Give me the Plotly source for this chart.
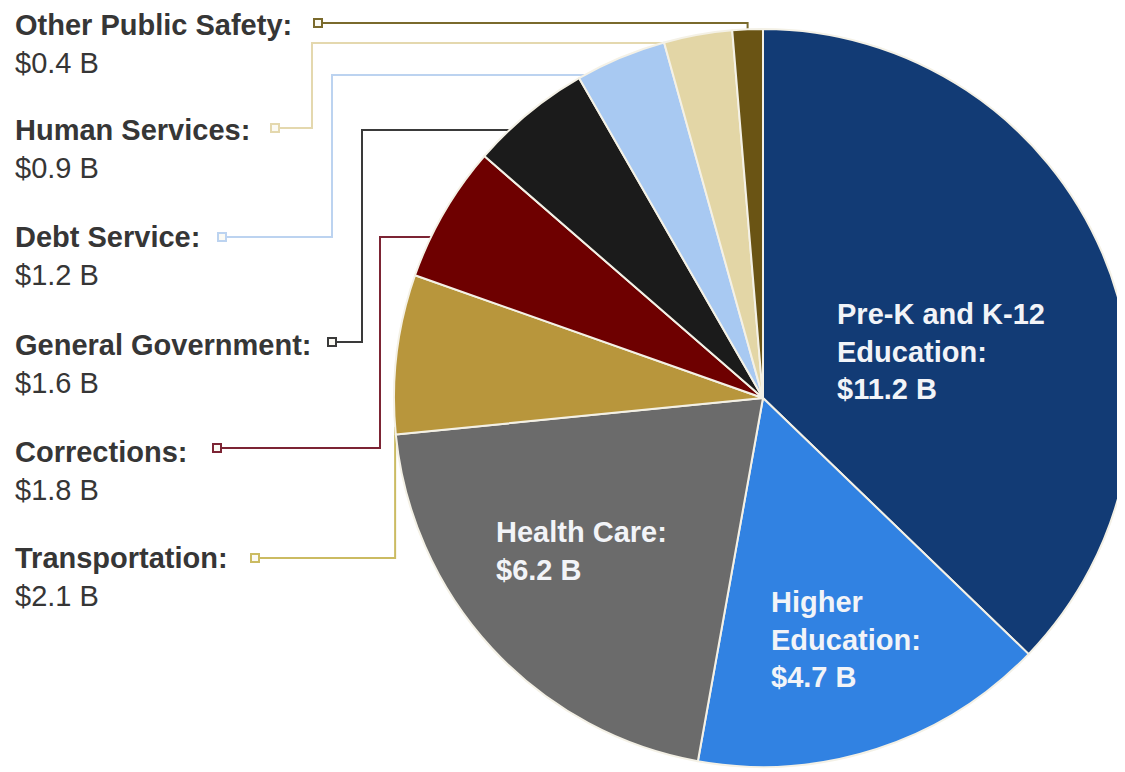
import math
import plotly.graph_objects as go

# ---------------- data ----------------
labels = ["Pre-K and K-12 Education", "Higher Education", "Health Care", "Transportation",
          "Corrections", "General Government", "Debt Service", "Human Services",
          "Other Public Safety"]
values = [11.2, 4.7, 6.2, 2.1, 1.8, 1.6, 1.2, 0.9, 0.4]
colors = ["#123b75", "#3182e2", "#6b6b6b", "#b8963c", "#6e0000", "#1b1b1b",
          "#a8c9f2", "#e3d6a6", "#6a5414"]
value_text = ["$%.1f B" % v for v in values]

W, H = 1125, 772
OFF = 8                      # page body margin offset
CX, CY, R = 763, 398, 369    # pie centre / radius in screen pixels

fig = go.Figure()

fig.add_trace(go.Pie(
    labels=labels, values=values, sort=False, direction="clockwise", rotation=0,
    marker=dict(colors=colors, line=dict(color="#f4f1e6", width=2)),
    textinfo="none", hoverinfo="label+value", showlegend=False,
    domain=dict(x=[(CX - OFF - R) / W, (CX - OFF + R) / W],
                y=[1 - (CY - OFF + R) / H, 1 - (CY - OFF - R) / H]),
))

# slice angles (clockwise from 12 o'clock)
total = sum(values)
starts, acc = [], 0.0
for v in values:
    starts.append(acc / total * 360)
    acc += v
ends = [s + v / total * 360 for s, v in zip(starts, values)]


def edge_pt(theta):
    t = math.radians(theta)
    return CX + R * math.sin(t), CY - R * math.cos(t)


def edge_x_at(y):
    return CX - math.sqrt(R * R - (y - CY) ** 2)


idx = {l: i for i, l in enumerate(labels)}
leaders = []
i = idx["Other Public Safety"]
ex, ey = edge_pt((starts[i] + ends[i]) / 2)
leaders.append((i, 318, 23, [(318, 23), (ex, 23), (ex, ey)], "#7a6a2c"))
for name, sx, sy, vx, hy, col in [
    ("Human Services", 275, 128, 312, 43, "#e4d8ae"),
    ("Debt Service", 222, 237, 332, 75, "#bcd3f0"),
    ("General Government", 332, 342, 362, 130, "#3a3a3a"),
    ("Corrections", 217, 448, 380, 237, "#7c2434"),
]:
    i = idx[name]
    leaders.append((i, sx, sy, [(sx, sy), (vx, sy), (vx, hy), (edge_x_at(hy), hy)], col))
i = idx["Transportation"]
tx, ty = edge_pt(starts[i] + 1.2)
leaders.append((i, 255, 558, [(255, 558), (tx, 558), (tx, ty)], "#cbbb62"))

for i, sx, sy, pts, col in leaders:
    fig.add_trace(go.Scatter(
        x=[p[0] for p in pts], y=[p[1] for p in pts], mode="lines",
        line=dict(color=col, width=2), hoverinfo="skip", showlegend=False,
        xaxis="x", yaxis="y"))
for i, sx, sy, pts, col in leaders:
    fig.add_trace(go.Scatter(
        x=[sx], y=[sy], mode="markers",
        marker=dict(symbol="square", size=8, color="#fbfaf4", line=dict(color=col, width=2)),
        hoverinfo="skip", showlegend=False, xaxis="x", yaxis="y"))

left_pos = {
    "Other Public Safety": 44, "Human Services": 149, "Debt Service": 256,
    "General Government": 364, "Corrections": 471, "Transportation": 577,
}
annotations = []
for name, y in left_pos.items():
    i = idx[name]
    annotations.append(dict(
        x=13, y=y, xref="x", yref="y", xanchor="left", yanchor="middle", align="left",
        text="<b>%s:</b><br>%s" % (name, value_text[i]), showarrow=False,
        font=dict(family="Liberation Sans, Arial, sans-serif", size=29, color="#363636")))

inside = [
    ("Pre-K and K-12 Education", "<b>Pre-K and K-12<br>Education:<br>%s</b>", 835, 351),
    ("Health Care", "<b>Health Care:<br>%s</b>", 494, 551),
    ("Higher Education", "<b>Higher<br>Education:<br>%s</b>", 769, 639),
]
for name, tmpl, x, y in inside:
    i = idx[name]
    annotations.append(dict(
        x=x, y=y, xref="x", yref="y", xanchor="left", yanchor="middle", align="left",
        text=tmpl % value_text[i], showarrow=False,
        font=dict(family="Liberation Sans, Arial, sans-serif", size=29, color="#f2f4f8")))

fig.update_layout(
    width=W, height=H, margin=dict(l=0, r=0, t=0, b=0),
    paper_bgcolor="white", plot_bgcolor="rgba(0,0,0,0)",
    # axis coordinates equal screen pixels (figure sits at OFF,OFF on the page)
    xaxis=dict(range=[OFF, W + OFF], visible=False, domain=[0, 1], fixedrange=True),
    yaxis=dict(range=[H + OFF, OFF], visible=False, domain=[0, 1], fixedrange=True),
    annotations=annotations,
)

fig.write_html("out.html")
